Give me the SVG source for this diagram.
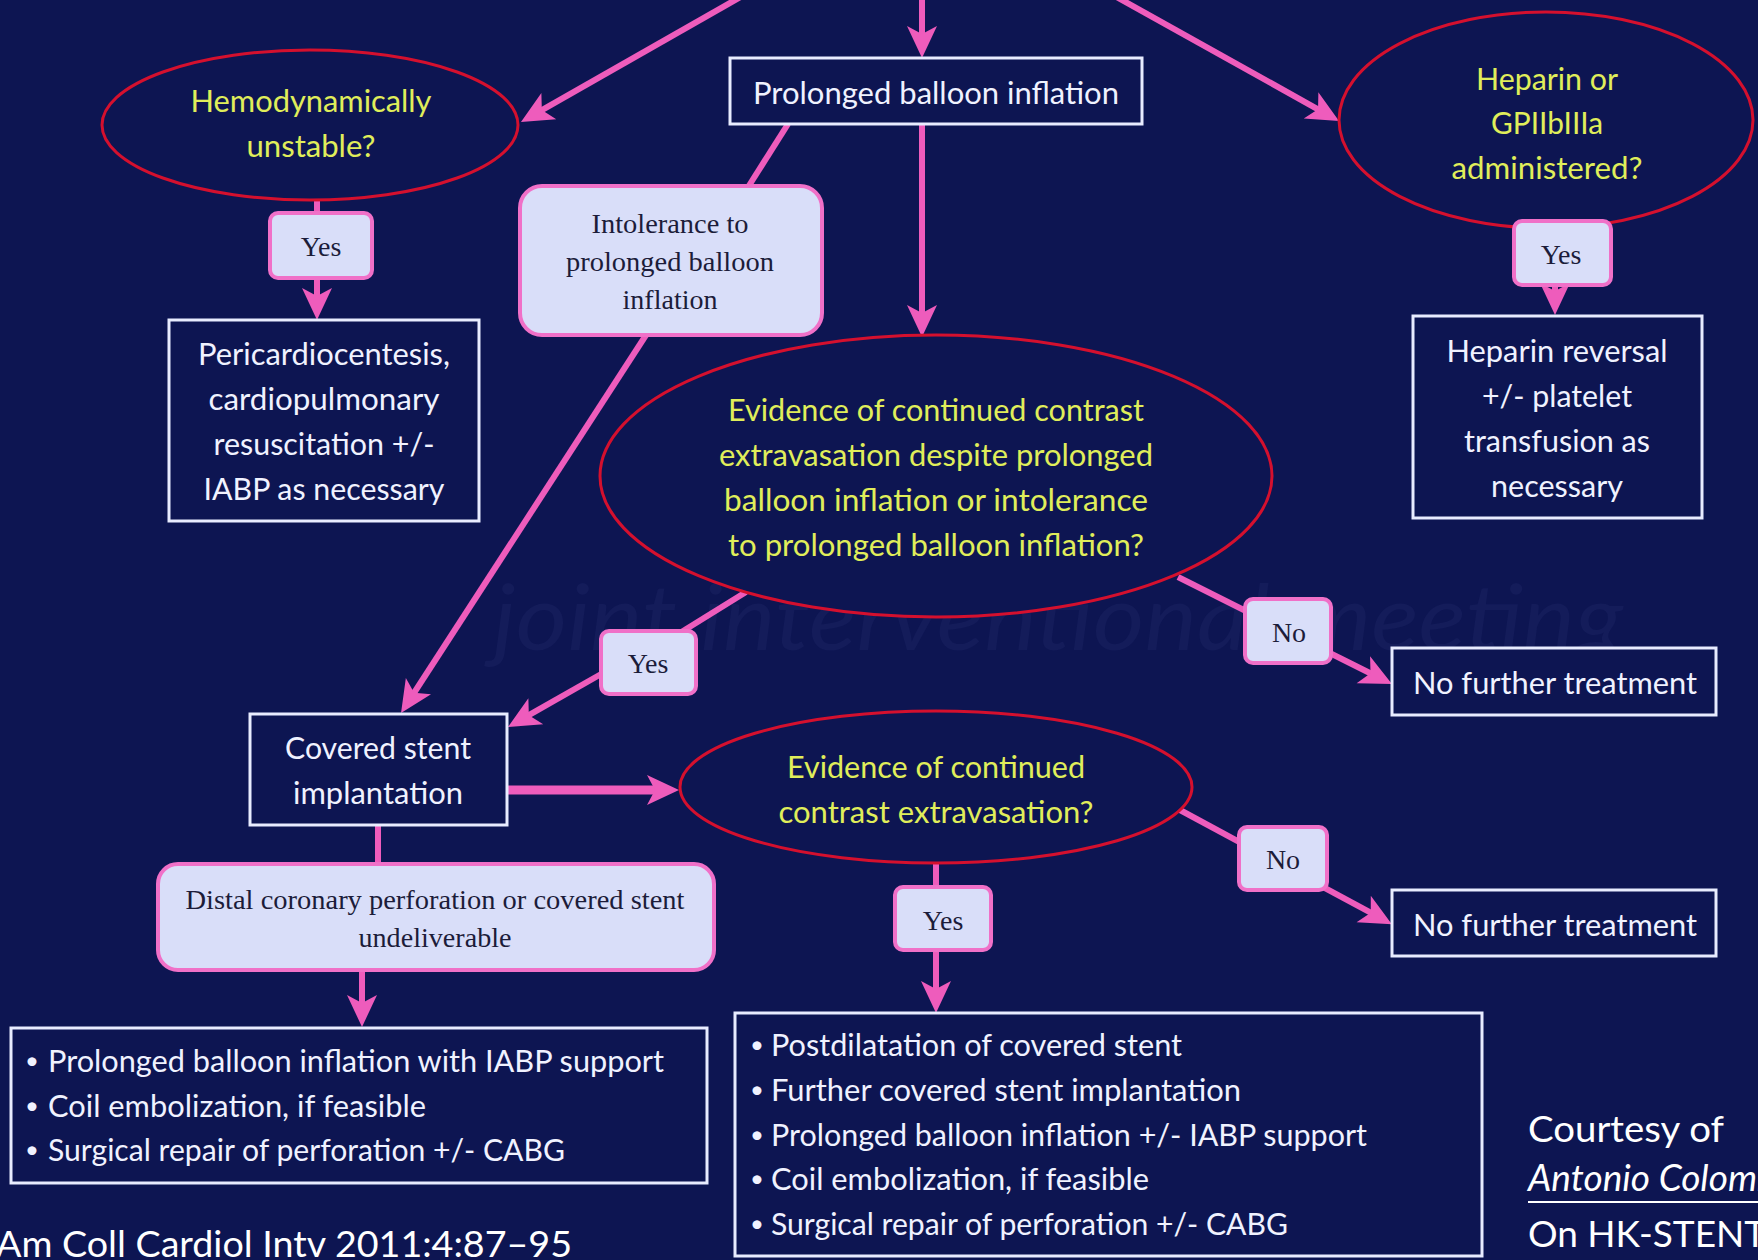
<svg xmlns="http://www.w3.org/2000/svg" width="1758" height="1260" viewBox="0 0 1758 1260">
<defs>
<style>
.bg{fill:#0d1552}
.q{font-family:Lato,"Liberation Sans",sans-serif;font-size:31px;fill:#e0ee5a;text-anchor:middle}
.w{font-family:Lato,"Liberation Sans",sans-serif;font-size:31px;fill:#f0f2ff;text-anchor:middle}
.wl{font-family:Lato,"Liberation Sans",sans-serif;font-size:31px;fill:#f0f2ff;text-anchor:start}
.bul{font-family:Lato,"Liberation Sans",sans-serif;font-size:24px;fill:#f0f2ff;text-anchor:middle}
.s{font-family:"Liberation Serif","Times New Roman",serif;font-size:28px;fill:#1c1c3a;text-anchor:middle}
.ell{fill:#0d1552;stroke:#d4102e;stroke-width:3}
.box{fill:#0d1552;stroke:#e8ecff;stroke-width:3}
.lbl{fill:#d9def9;stroke:#f070c8;stroke-width:4}
.con{fill:none;stroke:#ee5cbc;stroke-width:6}
.thick{stroke-width:9}
.cite{font-family:Lato,"Liberation Sans",sans-serif;font-size:37px;fill:#ffffff}
.wm{font-family:Lato,"Liberation Sans",sans-serif;font-style:italic;font-size:92px;fill:#141c5a}
</style>
<marker id="ah" markerUnits="userSpaceOnUse" markerWidth="60" markerHeight="60" viewBox="-30 -30 60 60" refX="0" refY="0" orient="auto">
<path d="M22,0 L-10,-15 L-2,0 L-10,15 Z" fill="#ee5cbc"/>
</marker>
</defs>
<rect class="bg" x="0" y="0" width="1758" height="1260"/>
<text class="wm" x="493" y="650" textLength="1130" lengthAdjust="spacingAndGlyphs">joint interventional meeting</text>

<g id="connectors">
<line class="con" x1="744" y1="-5" x2="540.1" y2="111.1" marker-end="url(#ah)"/>
<line class="con" x1="922" y1="-5" x2="922" y2="36" marker-end="url(#ah)"/>
<line class="con" x1="1113" y1="-5" x2="1319.8" y2="110.3" marker-end="url(#ah)"/>
<line class="con" x1="922" y1="125" x2="922" y2="315" marker-end="url(#ah)"/>
<line class="con" x1="317" y1="198" x2="317" y2="215"/>
<line class="con" x1="317" y1="276" x2="317" y2="298" marker-end="url(#ah)"/>
<line class="con" x1="1555" y1="198" x2="1555" y2="224"/>
<line class="con" x1="1555" y1="282" x2="1555" y2="293" marker-end="url(#ah)"/>
<line class="con" x1="788" y1="124" x2="745" y2="192"/>
<line class="con" x1="648" y1="332" x2="413" y2="694.5" marker-end="url(#ah)"/>
<line class="con" x1="746" y1="592" x2="675" y2="636"/>
<line class="con" x1="610" y1="669" x2="527.1" y2="716.2" marker-end="url(#ah)"/>
<line class="con" x1="1178" y1="577" x2="1372.3" y2="674.2" marker-end="url(#ah)"/>
<line class="con" x1="1180" y1="810" x2="1372.5" y2="913.7" marker-end="url(#ah)"/>
<line class="con thick" x1="508" y1="790" x2="657" y2="790" marker-end="url(#ah)"/>
<line class="con" x1="936" y1="862" x2="936" y2="890"/>
<line class="con" x1="936" y1="948" x2="936" y2="991" marker-end="url(#ah)"/>
<line class="con" x1="378" y1="826" x2="378" y2="866"/>
<line class="con" x1="362" y1="969" x2="362" y2="1005" marker-end="url(#ah)"/>
</g>

<g id="n-hemo">
<ellipse class="ell" cx="310" cy="125" rx="208" ry="75"/>
<text class="q" x="311" y="112" textLength="241" lengthAdjust="spacingAndGlyphs">Hemodynamically</text>
<text class="q" x="311" y="157" textLength="129" lengthAdjust="spacingAndGlyphs">unstable?</text>
</g>
<g id="n-prolonged">
<rect class="box" x="730" y="58" width="412" height="66"/>
<text class="w" x="936" y="104" textLength="366" lengthAdjust="spacingAndGlyphs">Prolonged balloon inflation</text>
</g>
<g id="n-heparin">
<ellipse class="ell" cx="1546" cy="120" rx="207" ry="108"/>
<text class="q" x="1547" y="90" textLength="142" lengthAdjust="spacingAndGlyphs">Heparin or</text>
<text class="q" x="1547" y="134" textLength="112" lengthAdjust="spacingAndGlyphs">GPIIbIIIa</text>
<text class="q" x="1547" y="179" textLength="191" lengthAdjust="spacingAndGlyphs">administered?</text>
</g>
<g id="n-yes1">
<rect class="lbl" x="270" y="213" width="102" height="65" rx="8"/>
<text class="s" x="321" y="256">Yes</text>
</g>
<g id="n-pericardio">
<rect class="box" x="169" y="320" width="310" height="201"/>
<text class="w" x="324" y="365" textLength="252" lengthAdjust="spacingAndGlyphs">Pericardiocentesis,</text>
<text class="w" x="324" y="410" textLength="231" lengthAdjust="spacingAndGlyphs">cardiopulmonary</text>
<text class="w" x="324" y="455" textLength="221" lengthAdjust="spacingAndGlyphs">resuscitation +/-</text>
<text class="w" x="324" y="500" textLength="241" lengthAdjust="spacingAndGlyphs">IABP as necessary</text>
</g>
<g id="n-intolerance">
<rect class="lbl" x="520" y="186" width="302" height="149" rx="22"/>
<text class="s" x="670" y="233" textLength="157" lengthAdjust="spacingAndGlyphs">Intolerance to</text>
<text class="s" x="670" y="271" textLength="208" lengthAdjust="spacingAndGlyphs">prolonged balloon</text>
<text class="s" x="670" y="309" textLength="95" lengthAdjust="spacingAndGlyphs">inflation</text>
</g>
<g id="n-yes2">
<rect class="lbl" x="1514" y="221" width="97" height="64" rx="8"/>
<text class="s" x="1561" y="264">Yes</text>
</g>
<g id="n-reversal">
<rect class="box" x="1413" y="316" width="289" height="202"/>
<text class="w" x="1557" y="362" textLength="221" lengthAdjust="spacingAndGlyphs">Heparin reversal</text>
<text class="w" x="1557" y="407" textLength="150" lengthAdjust="spacingAndGlyphs">+/- platelet</text>
<text class="w" x="1557" y="452" textLength="186" lengthAdjust="spacingAndGlyphs">transfusion as</text>
<text class="w" x="1557" y="497" textLength="132" lengthAdjust="spacingAndGlyphs">necessary</text>
</g>
<g id="n-evidence1">
<ellipse class="ell" cx="936" cy="476" rx="336" ry="141"/>
<text class="q" x="936" y="421" textLength="416" lengthAdjust="spacingAndGlyphs">Evidence of continued contrast</text>
<text class="q" x="936" y="466" textLength="434" lengthAdjust="spacingAndGlyphs">extravasation despite prolonged</text>
<text class="q" x="936" y="511" textLength="424" lengthAdjust="spacingAndGlyphs">balloon inflation  or intolerance</text>
<text class="q" x="936" y="556" textLength="416" lengthAdjust="spacingAndGlyphs">to prolonged balloon inflation?</text>
</g>
<g id="n-no1">
<rect class="lbl" x="1245" y="599" width="86" height="64" rx="8"/>
<text class="s" x="1289" y="642">No</text>
</g>
<g id="n-nft1">
<rect class="box" x="1392" y="648" width="324" height="67"/>
<text class="w" x="1555" y="694" textLength="284" lengthAdjust="spacingAndGlyphs">No further treatment</text>
</g>
<g id="n-yes3">
<rect class="lbl" x="601" y="631" width="95" height="63" rx="8"/>
<text class="s" x="648" y="673">Yes</text>
</g>
<g id="n-covered">
<rect class="box" x="250" y="714" width="257" height="111"/>
<text class="w" x="378" y="759" textLength="186" lengthAdjust="spacingAndGlyphs">Covered stent</text>
<text class="w" x="378" y="804" textLength="170" lengthAdjust="spacingAndGlyphs">implantation</text>
</g>
<g id="n-evidence2">
<ellipse class="ell" cx="936" cy="787" rx="256" ry="76"/>
<text class="q" x="936" y="778" textLength="298" lengthAdjust="spacingAndGlyphs">Evidence of continued</text>
<text class="q" x="936" y="823" textLength="315" lengthAdjust="spacingAndGlyphs">contrast extravasation?</text>
</g>
<g id="n-no2">
<rect class="lbl" x="1239" y="827" width="88" height="63" rx="8"/>
<text class="s" x="1283" y="869">No</text>
</g>
<g id="n-nft2">
<rect class="box" x="1392" y="890" width="324" height="66"/>
<text class="w" x="1555" y="936" textLength="284" lengthAdjust="spacingAndGlyphs">No further treatment</text>
</g>
<g id="n-yes4">
<rect class="lbl" x="895" y="887" width="96" height="63" rx="8"/>
<text class="s" x="943" y="930">Yes</text>
</g>
<g id="n-distal">
<rect class="lbl" x="158" y="864" width="556" height="106" rx="20"/>
<text class="s" x="435" y="909" textLength="499" lengthAdjust="spacingAndGlyphs">Distal coronary perforation or covered stent</text>
<text class="s" x="435" y="947" textLength="153" lengthAdjust="spacingAndGlyphs">undeliverable</text>
</g>
<g id="n-options-left">
<rect class="box" x="11" y="1028" width="696" height="155"/>
<text class="bul" x="32" y="1069">•</text>
<text class="wl" x="48" y="1072" textLength="616" lengthAdjust="spacingAndGlyphs">Prolonged balloon inflation with IABP support</text>
<text class="bul" x="32" y="1114">•</text>
<text class="wl" x="48" y="1117" textLength="378" lengthAdjust="spacingAndGlyphs">Coil embolization, if feasible</text>
<text class="bul" x="32" y="1158">•</text>
<text class="wl" x="48" y="1161" textLength="517" lengthAdjust="spacingAndGlyphs">Surgical repair of perforation +/- CABG</text>
</g>
<g id="n-options-right">
<rect class="box" x="735" y="1013" width="747" height="243"/>
<text class="bul" x="757" y="1053">•</text>
<text class="wl" x="771" y="1056" textLength="411" lengthAdjust="spacingAndGlyphs">Postdilatation of covered stent</text>
<text class="bul" x="757" y="1098">•</text>
<text class="wl" x="771" y="1101" textLength="470" lengthAdjust="spacingAndGlyphs">Further covered stent implantation</text>
<text class="bul" x="757" y="1143">•</text>
<text class="wl" x="771" y="1146" textLength="596" lengthAdjust="spacingAndGlyphs">Prolonged balloon inflation +/- IABP support</text>
<text class="bul" x="757" y="1187">•</text>
<text class="wl" x="771" y="1190" textLength="378" lengthAdjust="spacingAndGlyphs">Coil embolization, if feasible</text>
<text class="bul" x="757" y="1232">•</text>
<text class="wl" x="771" y="1235" textLength="517" lengthAdjust="spacingAndGlyphs">Surgical repair of perforation +/- CABG</text>
</g>

<g id="citation">
<text class="cite" x="-4" y="1257" textLength="576" lengthAdjust="spacingAndGlyphs">Am Coll Cardiol Intv 2011:4:87–95</text>
</g>
<g id="courtesy">
<text class="cite" x="1528" y="1142" font-size="38" textLength="196" lengthAdjust="spacingAndGlyphs">Courtesy of</text>
<text class="cite" x="1528" y="1191" font-size="40" font-style="italic">Antonio Colombo</text>
<line x1="1528" y1="1202" x2="1758" y2="1202" stroke="#ffffff" stroke-width="2"/>
<text class="cite" x="1528" y="1247" font-size="38">On HK-STENT</text>
</g>
</svg>
